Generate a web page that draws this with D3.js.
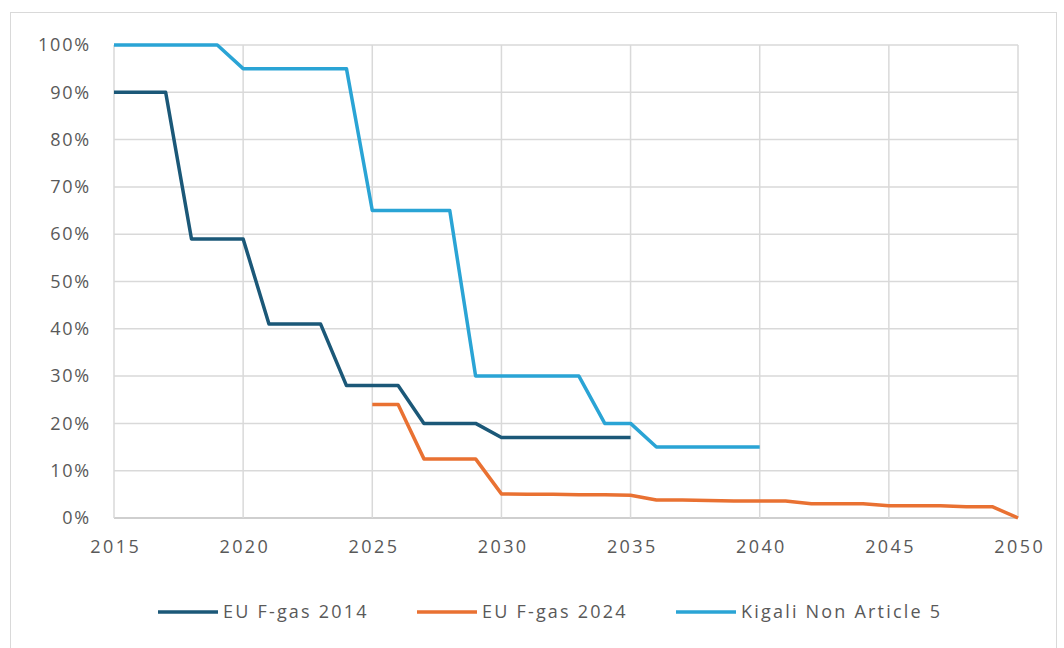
<!DOCTYPE html>
<html>
<head>
<meta charset="utf-8">
<script src="https://cdn.jsdelivr.net/npm/d3@7"></script>
<style>
  html, body { margin: 0; padding: 0; background: #fff; }
  svg { display: block; }
  text { font-family: "Open Sans", sans-serif; fill: #595959; }
</style>
</head>
<body>
<svg id="chart" width="1064" height="648"></svg>
<script>
const years = d3.range(2015, 2051);
const seriesNames = ["EU F-gas 2014", "EU F-gas 2024", "Kigali Non Article 5"];
const seriesColors = ["#1b5878", "#e97132", "#2aa4d5"];
// values in %, null = no data
const euFgas2014 = [90, 90, 90, 59, 59, 59, 41, 41, 41, 28, 28, 28, 20, 20, 20, 17, 17, 17, 17, 17, 17,
  null, null, null, null, null, null, null, null, null, null, null, null, null, null, null];
const euFgas2024 = [null, null, null, null, null, null, null, null, null, null, 24, 24, 12.5, 12.5, 12.5,
  5.1, 5.0, 5.0, 4.9, 4.9, 4.8, 3.8, 3.8, 3.7, 3.6, 3.6, 3.6, 3.0, 3.0, 3.0, 2.6, 2.6, 2.6, 2.4, 2.4, 0];
const kigali = [100, 100, 100, 100, 100, 95, 95, 95, 95, 95, 65, 65, 65, 65, 30, 30, 30, 30, 30, 20, 20,
  15, 15, 15, 15, 15, null, null, null, null, null, null, null, null, null, null];
const xTicks = [2015, 2020, 2025, 2030, 2035, 2040, 2045, 2050];
const yTicks = [0, 10, 20, 30, 40, 50, 60, 70, 80, 90, 100];

const allSeries = [euFgas2014, euFgas2024, kigali];

const svg = d3.select("#chart");
// outer chart border
svg.append("rect").attr("x", 10.5).attr("y", 12.5).attr("width", 1046).attr("height", 650)
  .attr("fill", "#fff").attr("stroke", "#d9d9d9").attr("stroke-width", 1);

const x = d3.scaleLinear().domain([2015, 2050]).range([114, 1018]);
const y = d3.scaleLinear().domain([0, 100]).range([518, 45]);

// gridlines
const grid = svg.append("g");
grid.selectAll("line.h").data(yTicks).join("line")
  .attr("x1", x(2015)).attr("x2", x(2050))
  .attr("y1", d => y(d)).attr("y2", d => y(d))
  .attr("stroke", d => d === 0 ? "#bfbfbf" : "#d9d9d9").attr("stroke-width", 1.5);
grid.selectAll("line.v").data(xTicks).join("line")
  .attr("y1", y(0)).attr("y2", y(100))
  .attr("x1", d => x(d)).attr("x2", d => x(d))
  .attr("stroke", "#d9d9d9").attr("stroke-width", 1.5);

// y axis labels
const yAxis = d3.axisLeft(y).tickValues(yTicks).tickFormat(d => d + "%").tickSize(0).tickPadding(0);
const gy = svg.append("g").attr("transform", "translate(91,0)").call(yAxis);
gy.select(".domain").remove();
gy.selectAll("text").attr("font-size", 18).attr("letter-spacing", "1.8px")
  .attr("fill", "#595959").style("font-family", "'Open Sans', sans-serif");

// x axis labels
const xAxis = d3.axisBottom(x).tickValues(xTicks).tickFormat(d3.format("d")).tickSize(0).tickPadding(0);
const gx = svg.append("g").attr("transform", "translate(0,540)").call(xAxis);
gx.select(".domain").remove();
gx.selectAll("text").attr("font-size", 18).attr("letter-spacing", "2.4px").attr("dx", "1.2px")
  .attr("fill", "#595959").style("font-family", "'Open Sans', sans-serif");

// lines
const line = d3.line()
  .defined(d => d.v !== null)
  .x(d => x(d.year)).y(d => y(d.v));

allSeries.forEach((vals, i) => {
  const data = years.map((yr, j) => ({ year: yr, v: vals[j] }));
  svg.append("path").datum(data)
    .attr("fill", "none").attr("stroke", seriesColors[i]).attr("stroke-width", 3.5)
    .attr("stroke-linejoin", "round").attr("d", line);
});

// legend
const legendX = [158, 417, 676];
const legend = svg.append("g");
seriesNames.forEach((name, i) => {
  legend.append("line").attr("x1", legendX[i]).attr("x2", legendX[i] + 60)
    .attr("y1", 612).attr("y2", 612).attr("stroke", seriesColors[i]).attr("stroke-width", 3.5);
  legend.append("text").attr("x", legendX[i] + 65).attr("y", 612).attr("dy", "0.35em")
    .attr("font-size", 18).attr("letter-spacing", "2.2px").text(name);
});
</script>
</body>
</html>
